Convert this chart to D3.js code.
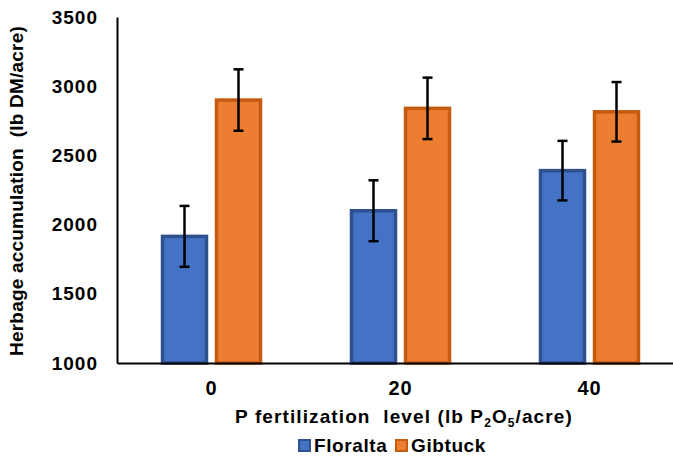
<!DOCTYPE html>
<html>
<head>
<script src="https://d3js.org/d3.v7.min.js"></script>
<style>
  body { margin: 0; background: #fff; }
  text { font-family: "Liberation Sans", Arial, sans-serif; font-weight: bold; }
</style>
</head>
<body>
<div id="chart"></div>
<script>
// data
const levels = ["0", "20", "40"];
const series = ["Floralta", "Gibtuck"];
const floralta = [1915, 2100, 2390];
const gibtuck = [2900, 2840, 2815];
const floraltaErr = [220, 220, 215];
const gibtuckErr = [222, 222, 215];
const yTicks = [1000, 1500, 2000, 2500, 3000, 3500];

const fills = { Floralta: "#4472C4", Gibtuck: "#ED7D31" };
const strokes = { Floralta: "#2F528F", Gibtuck: "#C55A11" };

const width = 673, height = 460;
const svg = d3.select("#chart").append("svg")
    .attr("width", width)
    .attr("height", height);

const plotLeft = 117, plotRight = 684, plotTop = 17, plotBottom = 363;

const x0 = d3.scaleBand().domain(levels).range([plotLeft, plotRight]);
const x1 = d3.scaleBand().domain(series)
    .range([(x0.bandwidth() - 108) / 2, (x0.bandwidth() + 108) / 2]);
const y = d3.scaleLinear().domain([1000, 3500]).range([plotBottom, plotTop]);

const rows = [];
levels.forEach(function (lv, i) {
    rows.push({ level: lv, s: "Floralta", v: floralta[i], e: floraltaErr[i] });
    rows.push({ level: lv, s: "Gibtuck", v: gibtuck[i], e: gibtuckErr[i] });
});

// bars
const barW = 44;
svg.selectAll("rect.bar")
    .data(rows)
    .enter()
    .append("rect")
    .attr("class", "bar")
    .attr("x", d => x0(d.level) + x1(d.s) + (x1.bandwidth() - barW) / 2)
    .attr("y", d => y(d.v))
    .attr("width", barW)
    .attr("height", d => y(1000) - y(d.v))
    .attr("fill", d => fills[d.s])
    .attr("stroke", d => strokes[d.s])
    .attr("stroke-width", 3.5);

// error bars
const cx = d => x0(d.level) + x1(d.s) + x1.bandwidth() / 2;
const err = svg.append("g").attr("stroke", "#000").attr("stroke-width", 2.5);
rows.forEach(function (d) {
    err.append("line").attr("x1", cx(d)).attr("x2", cx(d))
        .attr("y1", y(d.v + d.e)).attr("y2", y(d.v - d.e));
    [d.v + d.e, d.v - d.e].forEach(function (v) {
        err.append("line").attr("x1", cx(d) - 5).attr("x2", cx(d) + 5)
            .attr("y1", y(v)).attr("y2", y(v));
    });
});

// axes
const yAxis = d3.axisLeft(y).tickValues(yTicks).tickFormat(d3.format("d"))
    .tickSize(0).tickPadding(19);
const gy = svg.append("g")
    .attr("transform", "translate(" + plotLeft + ",0)")
    .call(yAxis);
gy.select(".domain").attr("stroke", "#000").attr("stroke-width", 2);
gy.selectAll("text").style("font-size", "19px").style("letter-spacing", "1px")
    .attr("fill", "#000").attr("font-family", "Liberation Sans, Arial, sans-serif");

const xAxis = d3.axisBottom(x0).tickSize(0).tickPadding(18);
const gx = svg.append("g")
    .attr("transform", "translate(0," + plotBottom + ")")
    .call(xAxis);
gx.select(".domain").attr("stroke", "#000").attr("stroke-width", 2);
gx.selectAll("text").style("font-size", "20px").style("letter-spacing", "1px")
    .attr("fill", "#000").attr("font-family", "Liberation Sans, Arial, sans-serif");

// axis titles
svg.append("text")
    .attr("transform", "rotate(-90)")
    .attr("x", -191)
    .attr("y", 23)
    .attr("font-size", 19)
    .style("letter-spacing", "0.2px")
    .style("text-anchor", "middle")
    .style("white-space", "pre")
    .text("Herbage accumulation  (lb DM/acre)");

const xt = svg.append("text")
    .attr("x", 404)
    .attr("y", 423)
    .attr("font-size", 19)
    .style("letter-spacing", "1.1px")
    .style("text-anchor", "middle")
    .style("white-space", "pre");
xt.append("tspan").text("P fertilization  level (lb P");
xt.append("tspan").attr("font-size", 12).attr("dy", 4).text("2");
xt.append("tspan").attr("dy", -4).text("O");
xt.append("tspan").attr("font-size", 12).attr("dy", 4).text("5");
xt.append("tspan").attr("dy", -4).text("/acre)");

// legend
const legX = [298, 395];
const leg = svg.selectAll("g.leg")
    .data(series)
    .enter()
    .append("g")
    .attr("class", "leg")
    .attr("transform", (d, i) => "translate(" + legX[i] + ",439)");
leg.append("rect")
    .attr("x", 1).attr("y", 1)
    .attr("width", 11).attr("height", 11)
    .attr("fill", d => fills[d])
    .attr("stroke", d => strokes[d])
    .attr("stroke-width", 2);
leg.append("text")
    .attr("x", 16)
    .attr("y", 13)
    .attr("font-size", 19)
    .style("letter-spacing", "0.6px")
    .text(d => d);
</script>
</body>
</html>
